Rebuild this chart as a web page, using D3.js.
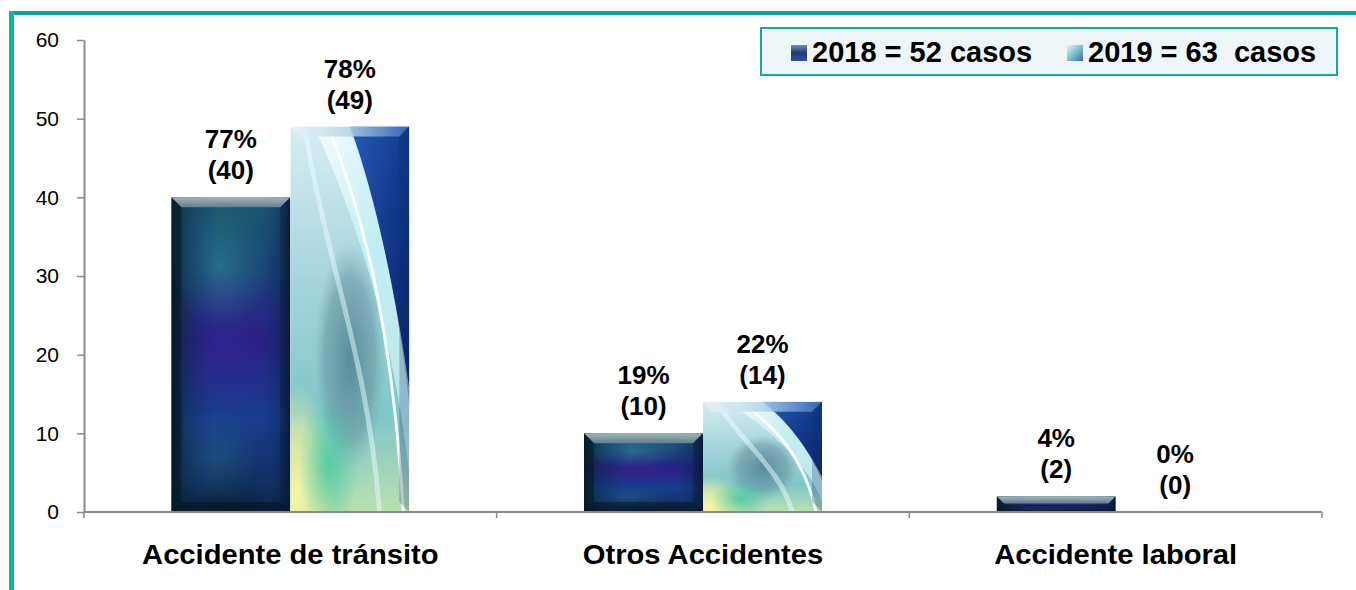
<!DOCTYPE html>
<html><head><meta charset="utf-8">
<script src="https://cdn.jsdelivr.net/npm/d3@7"></script>
<style>
body{margin:0;background:#fff}
svg{display:block}
text{font-family:Arial,"Liberation Sans",sans-serif}
</style>
</head><body>
<svg id="c" width="1356" height="590"></svg>
<script>
const categories = ["Accidente de tránsito", "Otros Accidentes", "Accidente laboral"];
const seriesNames = ["2018", "2019"];
const values2018 = [40, 10, 2];
const values2019 = [49, 14, 0];
const pct2018 = ["77%", "19%", "4%"];
const pct2019 = ["78%", "22%", "0%"];
const legendLabels = ["2018 = 52 casos", "2019 = 63  casos"];
const yTicks = [0, 10, 20, 30, 40, 50, 60];

const svg = d3.select("#c");
const W = 1356, H = 590;
const plot = {left: 84, right: 1322, top: 40, bottom: 512};

const x = d3.scaleBand().domain(categories).range([plot.left, plot.right]).paddingInner(0).paddingOuter(0);
const xs = d3.scaleBand().domain(seriesNames).range([0, x.bandwidth()]).paddingInner(0).paddingOuter(0.734);
const y = d3.scaleLinear().domain([0, 60]).range([plot.bottom, plot.top]);

const defs = svg.append("defs");
function lg(id, x1, y1, x2, y2, stops) {
  const g = defs.append("linearGradient").attr("id", id)
    .attr("x1", x1).attr("y1", y1).attr("x2", x2).attr("y2", y2);
  stops.forEach(s => g.append("stop").attr("offset", s[0]).attr("stop-color", s[1]).attr("stop-opacity", s[2] === undefined ? 1 : s[2]));
}
function rg(id, stops) {
  const g = defs.append("radialGradient").attr("id", id).attr("cx", 0.5).attr("cy", 0.5).attr("r", 0.5);
  stops.forEach(s => g.append("stop").attr("offset", s[0]).attr("stop-color", s[1]).attr("stop-opacity", s[2] === undefined ? 1 : s[2]));
}
// 2018 bar
lg("g18v", 0, 0, 0, 1, [[0, "#1c5d70"], [0.2, "#17486e"], [0.45, "#281c7c"], [0.7, "#183f8e"], [0.9, "#10305c"], [1, "#0a2233"]]);
lg("g18h", 0, 0, 1, 0, [[0, "#061c28", 0.85], [0.12, "#0a2a40", 0.45], [0.4, "#1a2a90", 0.0], [0.75, "#2030a0", 0.1], [0.92, "#0a2a50", 0.5], [1, "#06182a", 0.85]]);
lg("g18top", 0, 0, 0, 1, [[0, "#a2b4ba"], [1, "#5f7f8e"]]);
rg("glow18", [[0, "#3aa0a8", 0.45], [1, "#3aa0a8", 0]]);
rg("glowp", [[0, "#3a2aa0", 0.5], [1, "#3a2aa0", 0]]);
// 2019 bar
lg("g19base", 0, 0, 0, 1, [[0, "#d6eef2"], [0.4, "#a6d4de"], [0.75, "#7fc6c8"], [1, "#b8e0b0"]]);
lg("g19dark", 0, 0, 1, 1, [[0, "#2a5cb8"], [0.5, "#123a8c"], [1, "#0a2260"]]);
rg("gellipse", [[0, "#4f7f90", 0.85], [0.7, "#6a98a6", 0.6], [1, "#7fb0bc", 0]]);
rg("gyellow", [[0, "#fbf6a8", 0.95], [0.6, "#eef0a0", 0.6], [1, "#e0f0a0", 0]]);
rg("ggreen", [[0, "#40c8a0", 0.8], [1, "#40c8a0", 0]]);
lg("gswoosh", 0, 0, 1, 1, [[0, "#ffffff", 0.95], [0.5, "#c8f4fa", 0.85], [1, "#e8fbff", 0.7]]);
lg("g19top", 0, 0, 1, 0, [[0, "#eef6f8"], [0.5, "#b0d4e8"], [1, "#3a6cc0"]]);
// legend icons
lg("li18", 0, 0, 0, 1, [[0, "#6f8fb0"], [0.5, "#1f3a78"], [1, "#3050a0"]]);
lg("li19", 0, 0, 1, 1, [[0, "#e8f4e8"], [0.5, "#7fc0d0"], [1, "#3a6aa8"]]);

// frame (teal)
svg.append("rect").attr("x", 9).attr("y", 11).attr("width", W - 9).attr("height", 4).attr("fill", "#0aa597");
svg.append("rect").attr("x", 9).attr("y", 11).attr("width", 5).attr("height", H - 11).attr("fill", "#12b49e");

const axisColor = "#8a8a8a";

// Y axis
const yAxis = svg.append("g").attr("transform", `translate(${plot.left},0)`)
  .call(d3.axisLeft(y).tickValues(yTicks).tickSize(7).tickPadding(18).tickSizeOuter(0));
yAxis.select(".domain").attr("stroke", axisColor).attr("stroke-width", 2);
yAxis.selectAll(".tick line").attr("stroke", axisColor).attr("stroke-width", 1.5);
yAxis.selectAll(".tick text").attr("fill", "#000").style("font-size", "21px").style("font-family", "Arial, 'Liberation Sans', sans-serif");

// bars
function drawBar(g, x0, v, w, kind, id) {
  const top = y(v), bot = y(0), h = bot - top;
  if (h <= 0) return;
  const cp = defs.append("clipPath").attr("id", "cp" + id);
  cp.append("rect").attr("x", x0).attr("y", top).attr("width", w).attr("height", h);
  const b = Math.min(10, h / 2.2);
  const gg = g.append("g").attr("clip-path", `url(#cp${id})`);
  if (kind === "2018") {
    gg.append("rect").attr("x", x0).attr("y", top).attr("width", w).attr("height", h).attr("fill", "url(#g18v)");
    gg.append("ellipse").attr("cx", x0 + w * 0.45).attr("cy", top + h * 0.45).attr("rx", w * 0.45).attr("ry", h * 0.25).attr("fill", "url(#glowp)");
    gg.append("ellipse").attr("cx", x0 + w * 0.4).attr("cy", top + h * 0.22).attr("rx", w * 0.45).attr("ry", Math.min(h * 0.2, 60)).attr("fill", "url(#glow18)");
    gg.append("ellipse").attr("cx", x0 + w * 0.35).attr("cy", top + h * 0.82).attr("rx", w * 0.4).attr("ry", h * 0.15).attr("fill", "url(#glow18)").attr("opacity", 0.5);
    gg.append("rect").attr("x", x0).attr("y", top).attr("width", w).attr("height", h).attr("fill", "url(#g18h)");
    // bevels
    gg.append("path").attr("d", `M${x0},${top}L${x0 + w},${top}L${x0 + w - b},${top + b}L${x0 + b},${top + b}Z`).attr("fill", "url(#g18top)");
    gg.append("path").attr("d", `M${x0},${top}L${x0 + b},${top + b}L${x0 + b},${bot - b}L${x0},${bot}Z`).attr("fill", "#05141f").attr("opacity", 0.45);
    gg.append("path").attr("d", `M${x0 + w},${top}L${x0 + w - b},${top + b}L${x0 + w - b},${bot - b}L${x0 + w},${bot}Z`).attr("fill", "#0a1a40").attr("opacity", 0.4);
    gg.append("path").attr("d", `M${x0},${bot}L${x0 + b},${bot - b}L${x0 + w - b},${bot - b}L${x0 + w},${bot}Z`).attr("fill", "#041018").attr("opacity", 0.45);
  } else {
    gg.append("rect").attr("x", x0).attr("y", top).attr("width", w).attr("height", h).attr("fill", "url(#g19base)");
    // grey-teal central ellipse
    gg.append("ellipse").attr("cx", x0 + w * 0.5).attr("cy", top + h * 0.6).attr("rx", w * 0.3).attr("ry", h * 0.3).attr("fill", "url(#gellipse)");
    // yellow & green bottom-left
    gg.append("ellipse").attr("cx", x0 + w * 0.05).attr("cy", bot - h * 0.05).attr("rx", w * 0.35).attr("ry", h * 0.28).attr("fill", "url(#gyellow)");
    gg.append("ellipse").attr("cx", x0 + w * 0.32).attr("cy", bot - h * 0.12).attr("rx", w * 0.25).attr("ry", h * 0.18).attr("fill", "url(#ggreen)");
    // dark upper-right region
    const d = `M${x0 + w * 0.5},${top} L${x0 + w},${top} L${x0 + w},${top + h * 0.72}
               C${x0 + w * 0.9},${top + h * 0.45} ${x0 + w * 0.72},${top + h * 0.18} ${x0 + w * 0.5},${top} Z`;
    gg.append("path").attr("d", d).attr("fill", "url(#g19dark)");
    // swoosh band
    const s = `M${x0 + w * 0.2},${top} C${x0 + w * 0.5},${top + h * 0.2} ${x0 + w * 0.85},${top + h * 0.5} ${x0 + w * 1.0},${top + h * 0.9}
               L${x0 + w},${top + h * 0.68} C${x0 + w * 0.88},${top + h * 0.42} ${x0 + w * 0.7},${top + h * 0.16} ${x0 + w * 0.48},${top} Z`;
    gg.append("path").attr("d", s).attr("fill", "url(#gswoosh)").attr("opacity", 0.85);
    const s2 = `M${x0 + w * 0.32},${top} C${x0 + w * 0.6},${top + h * 0.22} ${x0 + w * 0.85},${top + h * 0.5} ${x0 + w * 0.95},${bot}`;
    gg.append("path").attr("d", s2).attr("fill", "none").attr("stroke", "#ffffff").attr("stroke-width", 3).attr("opacity", 0.9);
    const s3 = `M${x0 + w * 0.12},${top} C${x0 + w * 0.3},${top + h * 0.35} ${x0 + w * 0.65},${top + h * 0.6} ${x0 + w * 0.75},${bot}`;
    gg.append("path").attr("d", s3).attr("fill", "none").attr("stroke", "#eafcff").attr("stroke-width", 5).attr("opacity", 0.5);
    gg.append("path").attr("d", `M${x0},${top}L${x0 + w},${top}L${x0 + w - b},${top + b}L${x0 + b},${top + b}Z`).attr("fill", "url(#g19top)").attr("opacity", 0.85);
    gg.append("path").attr("d", `M${x0 + w},${top}L${x0 + w - b},${top + b}L${x0 + w - b},${bot - b}L${x0 + w},${bot}Z`).attr("fill", "#0a2a70").attr("opacity", 0.25);
  }
}

const barsG = svg.append("g");
const labelsG = svg.append("g");
function label(xc, yb, txt, size) {
  labelsG.append("text").attr("x", xc).attr("y", yb)
    .attr("text-anchor", "middle").style("font-size", size + "px").style("font-weight", "bold")
    .attr("fill", "#000").text(txt);
}
categories.forEach((c, i) => {
  const w = xs.bandwidth();
  const x18 = x(c) + xs("2018"), x19 = x(c) + xs("2019");
  drawBar(barsG, x18, values2018[i], w, "2018", "a" + i);
  drawBar(barsG, x19, values2019[i], w, "2019", "b" + i);
  [[x18, values2018[i], pct2018[i]], [x19, values2019[i], pct2019[i]]].forEach(([bx, v, p]) => {
    const yb = y(v) - 18;
    label(bx + w / 2, yb, "(" + v + ")", 26);
    label(bx + w / 2, yb - 31, p, 26);
  });
});

// X axis
const xAxis = svg.append("g");
xAxis.append("line").attr("x1", plot.left).attr("x2", plot.right).attr("y1", y(0)).attr("y2", y(0))
  .attr("stroke", axisColor).attr("stroke-width", 2);
const bounds = categories.map(c => x(c)).concat([x(categories[categories.length - 1]) + x.bandwidth()]);
xAxis.selectAll("line.tk").data(bounds).join("line").attr("class", "tk")
  .attr("x1", d => d).attr("x2", d => d).attr("y1", y(0)).attr("y2", y(0) + 6)
  .attr("stroke", axisColor).attr("stroke-width", 1.5);
const catSx = 1.08;
categories.forEach(c => {
  xAxis.append("text").attr("transform", `translate(${x(c) + x.bandwidth() / 2},564) scale(${catSx},1)`)
    .attr("text-anchor", "middle").style("font-size", "27px").style("font-weight", "bold").text(c);
});

// Legend
const lgG = svg.append("g");
lgG.append("rect").attr("x", 761).attr("y", 28).attr("width", 576).attr("height", 47)
  .attr("fill", "#eef5f7").attr("stroke", "#1aa89c").attr("stroke-width", 2);
const legendIcons = ["url(#li18)", "url(#li19)"];
const legendX = [791, 1067];
legendLabels.forEach((t, i) => {
  lgG.append("rect").attr("x", legendX[i]).attr("y", 45).attr("width", 16).attr("height", 16).attr("fill", legendIcons[i]);
  lgG.append("text").attr("x", legendX[i] + 21).attr("y", 62).style("font-size", "29px").style("font-weight", "bold")
    .style("white-space", "pre").attr("xml:space", "preserve").text(t);
});
</script>
</body></html>
